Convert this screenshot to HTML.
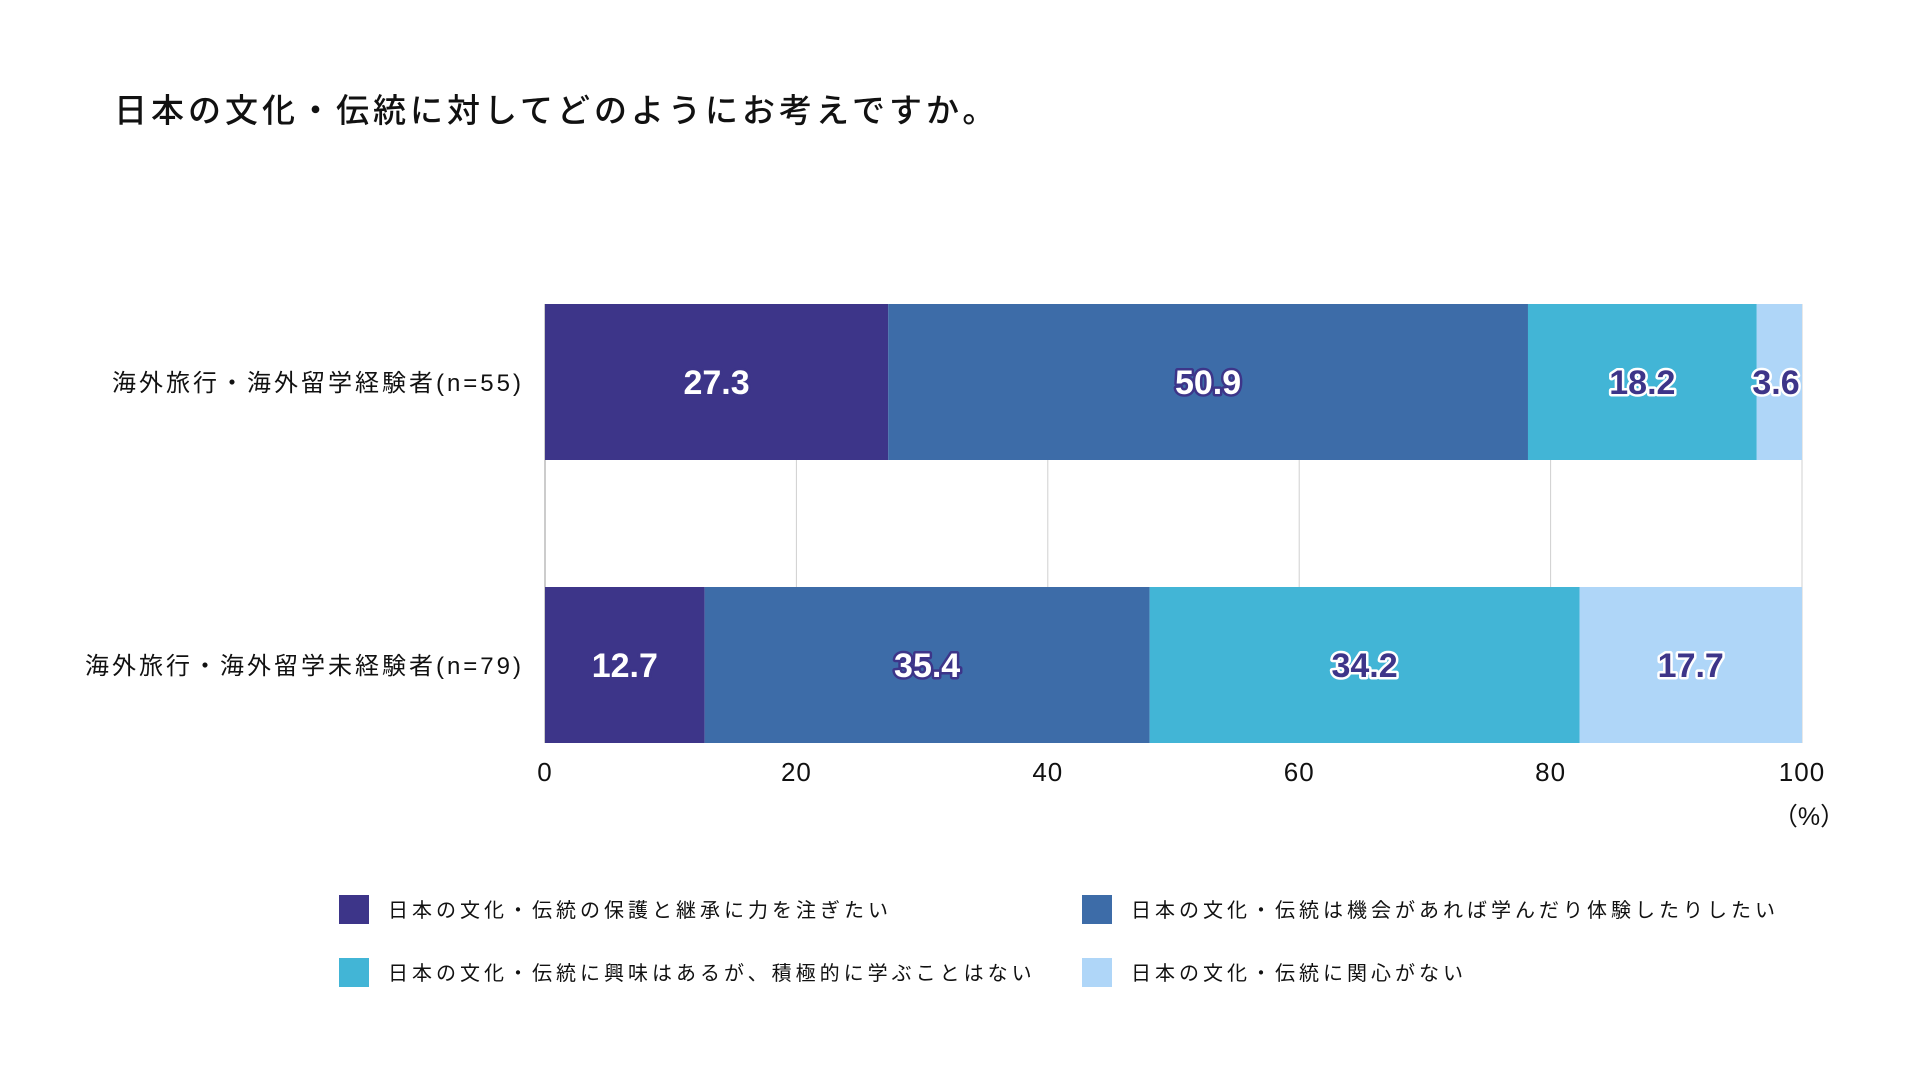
<!DOCTYPE html>
<html><head><meta charset="utf-8"><style>
html,body{margin:0;padding:0;background:#fff;width:1920px;height:1080px;overflow:hidden}
svg{font-family:"Liberation Sans","Noto Sans CJK JP",sans-serif}
</style></head><body>
<svg id="chart" width="1920" height="1080" xmlns="http://www.w3.org/2000/svg">
<text x="114" y="122" font-size="33" font-weight="500" fill="#111" letter-spacing="4">日本の文化・伝統に対してどのようにお考えですか。</text>
<g id="grid"></g><g id="bars"></g><g id="labels"></g><g id="axis"></g><g id="legend"></g>
</svg>
<script>
const categories = ["海外旅行・海外留学経験者(n=55)", "海外旅行・海外留学未経験者(n=79)"];
const seriesNames = ["日本の文化・伝統の保護と継承に力を注ぎたい","日本の文化・伝統は機会があれば学んだり体験したりしたい","日本の文化・伝統に興味はあるが、積極的に学ぶことはない","日本の文化・伝統に関心がない"];
const s1 = [27.3, 12.7];
const s2 = [50.9, 35.4];
const s3 = [18.2, 34.2];
const s4 = [3.6, 17.7];
const ticks = [0, 20, 40, 60, 80, 100];
const colors = ["#3d3589","#3d6ca8","#42b5d6","#afd6f8"];
const series = [s1, s2, s3, s4];
const NS = "http://www.w3.org/2000/svg";
const X0 = 545, X1 = 1802;
const x = v => X0 + (X1 - X0) * v / 100;
const barTops = [304, 587], barH = 156;
function mk(tag, attrs, parent){const e=document.createElementNS(NS,tag);for(const k in attrs)e.setAttribute(k,attrs[k]);parent.appendChild(e);return e;}
const grid=document.getElementById('grid'), bars=document.getElementById('bars'), labels=document.getElementById('labels'), axis=document.getElementById('axis'), legend=document.getElementById('legend');
ticks.forEach(t=>{
  const l=mk('line',{x1:x(t),x2:x(t),y1:barTops[0],y2:barTops[1]+barH,stroke:t===0?'#999':'#d0d0d0','stroke-width':1},grid);
  
  
  const tx=mk('text',{x:x(t),y:781,'font-size':26,'text-anchor':'middle',fill:'#111','letter-spacing':'1'},axis);
  tx.textContent=t;
  
  
});
const unit=mk('text',{x:x(100)+7,y:825,'font-size':25,'text-anchor':'middle',fill:'#111'},axis);
unit.textContent='（%）';


categories.forEach((c,i)=>{
  const t=mk('text',{x:524,y:barTops[i]+barH/2+9,'font-size':24,'text-anchor':'end',fill:'#111','letter-spacing':'3'},axis);
  t.textContent=c;
  
  
  let acc=0;
  series.forEach((s,j)=>{
    const v=s[i];
    const r=mk('rect',{x:x(acc),y:barTops[i],width:x(acc+v)-x(acc),height:barH,fill:colors[j]},bars);
    
    
    const dark=j<2;
    let cx=(x(acc)+x(acc+v))/2;
    if(v<6) cx=x(acc+v)-26;
    const lb=mk('text',{x:cx,y:barTops[i]+barH/2+12,'font-size':34,'font-weight':'bold','text-anchor':'middle',fill:dark?'#fff':'#3d3589',stroke:dark?'#3d3589':'#fff','stroke-width':5,'paint-order':'stroke','stroke-linejoin':'round'},labels);
    lb.textContent=v.toFixed(1);
    
    
    acc+=v;
  });
});
const legPos=[[339,895],[1082,895],[339,958],[1082,958]];
seriesNames.forEach((n,j)=>{
  const g=mk('g',{},legend);
  
  
  mk('rect',{x:legPos[j][0],y:legPos[j][1],width:30,height:29,fill:colors[j]},g);
  const t=mk('text',{x:legPos[j][0]+49,y:legPos[j][1]+22,'font-size':20,fill:'#111','letter-spacing':'4'},g);
  t.textContent=n;
});
</script>
</body></html>
